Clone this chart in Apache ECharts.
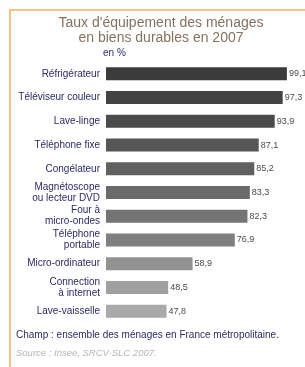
<!DOCTYPE html>
<html>
<head>
<meta charset="utf-8">
<script src="https://cdn.jsdelivr.net/npm/echarts@6/dist/echarts.min.js"></script>
<style>
  html, body { margin: 0; padding: 0; background: #fff; }
  #chart { width: 305px; height: 367px; }
</style>
</head>
<body>
<div id="chart"></div>
<script>
// données (en %)
var categories = [
  "Réfrigérateur",
  "Téléviseur couleur",
  "Lave-linge",
  "Téléphone fixe",
  "Congélateur",
  "Magnétoscope\nou lecteur DVD",
  "Four à\nmicro-ondes",
  "Téléphone\nportable",
  "Micro-ordinateur",
  "Connection\nà internet",
  "Lave-vaisselle"
];
var values = [99.1, 97.3, 93.9, 87.1, 85.2, 83.3, 82.3, 76.9, 58.9, 48.5, 47.8];
var barColors = ["#3b3b3b", "#434343", "#4b4b4b", "#565656", "#606060", "#6a6a6a",
                 "#747474", "#7f7f7f", "#929292", "#a0a0a0", "#a9a9a9"];

var font = "Liberation Sans, Arial, sans-serif";
var chart = echarts.init(document.getElementById("chart"));

var option = {
  animation: false,
  textStyle: { fontFamily: font },
  title: {
    text: "Taux d'équipement des ménages\nen biens durables en 2007",
    left: 161,
    top: 16,
    padding: 0,
    textAlign: "center",
    textStyle: { fontSize: 14, fontWeight: "normal", color: "#84725f", lineHeight: 15 }
  },
  grid: { left: 106, width: 183, top: 62, height: 261, containLabel: false },
  xAxis: {
    type: "value",
    min: 22,
    max: 100,
    show: false
  },
  yAxis: {
    type: "category",
    data: categories,
    inverse: true,
    axisLine: { show: false },
    axisTick: { show: false },
    splitLine: { show: false },
    axisLabel: {
      margin: 6,
      fontSize: 10,
      lineHeight: 11,
      color: "#2b2b66",
      align: "right"
    }
  },
  series: [
    {
      type: "bar",
      data: values.map(function (v, i) {
        return { value: v, itemStyle: { color: barColors[i] } };
      }),
      barWidth: 13,
      label: {
        show: true,
        position: "right",
        distance: 2,
        fontSize: 9,
        color: "#4a4a4a",
        formatter: function (p) {
          return p.value.toFixed(1).replace(".", ",");
        }
      }
    }
  ],
  graphic: [
    // cadre orange (haut et gauche)
    {
      type: "rect",
      shape: { x: 10, y: 10, width: 320, height: 380 },
      style: { fill: null, stroke: "#f3c582", lineWidth: 2 },
      silent: true
    },
    {
      type: "text",
      left: 103,
      top: 48,
      style: { text: "en %", fontSize: 10, fill: "#2b2b66", fontFamily: font }
    },
    {
      type: "text",
      left: 16,
      top: 330,
      style: {
        text: "Champ : ensemble des ménages en France métropolitaine.",
        fontSize: 10,
        fill: "#2b2b66",
        fontFamily: font
      }
    },
    {
      type: "text",
      left: 16,
      top: 348,
      style: {
        text: "Source : Insee, SRCV-SLC 2007.",
        fontSize: 9.5,
        fontStyle: "italic",
        fill: "#b5b5b5",
        fontFamily: font
      }
    }
  ]
};

chart.setOption(option);
window.onresize = chart.resize;
</script>
</body>
</html>
